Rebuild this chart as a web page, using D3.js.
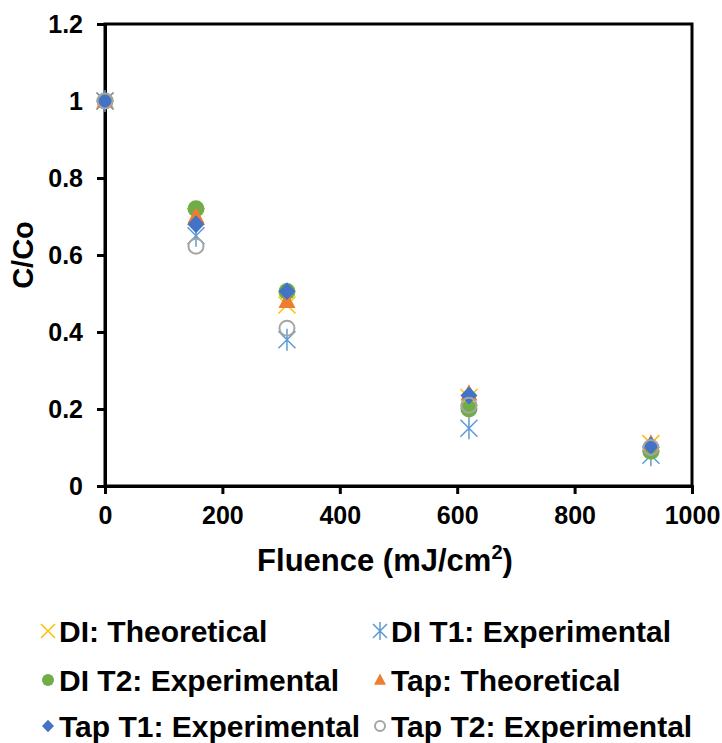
<!DOCTYPE html>
<html>
<head>
<meta charset="utf-8">
<script src="https://cdn.jsdelivr.net/npm/d3@7"></script>
<style>
  body { margin: 0; background: #fff; }
  svg { font-family: "Liberation Sans", Arial, sans-serif; font-weight: bold; }
</style>
</head>
<body>
<div id="chart"></div>
<script>
// fluence values (mJ/cm2)
var fluence = [0, 155, 310, 620, 930];

var seriesNames = ["DI: Theoretical", "DI T1: Experimental", "DI T2: Experimental",
                   "Tap: Theoretical", "Tap T1: Experimental", "Tap T2: Experimental"];

var diTheo  = [1, 0.70, 0.47, 0.23, 0.11];
var diT1    = [1, 0.65, 0.38, 0.15, 0.08];
var diT2    = [1, 0.72, 0.505, 0.20, 0.09];
var tapTheo = [1, 0.70, 0.48, 0.24, 0.11];
var tapT1   = [1, 0.68, 0.506, 0.235, 0.105];
var tapT2   = [1, 0.623, 0.41, 0.21, 0.10];

var xTicks = [0, 200, 400, 600, 800, 1000];
var yTicks = [0, 0.2, 0.4, 0.6, 0.8, 1, 1.2];

var series = [
  { name: seriesNames[0], values: diTheo,  kind: "x",        color: "#FFC000" },
  { name: seriesNames[1], values: diT1,    kind: "asterisk", color: "#5B9BD5" },
  { name: seriesNames[2], values: diT2,    kind: "circle",   color: "#70AD47" },
  { name: seriesNames[3], values: tapTheo, kind: "triangle", color: "#ED7D31" },
  { name: seriesNames[4], values: tapT1,   kind: "diamond",  color: "#4472C4" },
  { name: seriesNames[5], values: tapT2,   kind: "open",     color: "#A5A5A5" }
];

var width = 722, height = 743;
var margin = { left: 105, right: 30, top: 24, bottom: 257 };

var svg = d3.select("#chart").append("svg")
  .attr("width", width)
  .attr("height", height);

var x = d3.scaleLinear().domain([0, 1000]).range([margin.left, width - margin.right]);
var y = d3.scaleLinear().domain([0, 1.2]).range([height - margin.bottom, margin.top]);

// frame
svg.append("rect")
  .attr("x", x(0)).attr("y", y(1.2))
  .attr("width", x(1000) - x(0)).attr("height", y(0) - y(1.2))
  .attr("fill", "none").attr("stroke", "#000").attr("stroke-width", 3);

var xAxis = svg.append("g")
  .attr("transform", "translate(0," + y(0) + ")")
  .call(d3.axisBottom(x).tickValues(xTicks).tickSize(8).tickPadding(12).tickFormat(d3.format("d")));
var yAxis = svg.append("g")
  .attr("transform", "translate(" + x(0) + ",0)")
  .call(d3.axisLeft(y).tickValues(yTicks).tickSize(8).tickPadding(14).tickFormat(function(d) { return String(+d.toFixed(1)); }));

[xAxis, yAxis].forEach(function(a) {
  a.select(".domain").attr("stroke-width", 3);
  a.selectAll(".tick line").attr("stroke-width", 3);
  a.selectAll("text").attr("font-size", 25).attr("font-weight", "bold").attr("fill", "#000")
    .attr("font-family", "'Liberation Sans', Arial, sans-serif");
});

// axis titles
var xt = svg.append("text")
  .attr("x", 385).attr("y", 571)
  .attr("text-anchor", "middle").attr("font-size", 31);
xt.append("tspan").text("Fluence (mJ/cm");
xt.append("tspan").attr("font-size", 20).attr("dy", -12).text("2");
xt.append("tspan").attr("dy", 12).text(")");

svg.append("text")
  .attr("transform", "translate(33," + ((y(0) + y(1.2)) / 2) + ") rotate(-90)")
  .attr("text-anchor", "middle").attr("font-size", 29)
  .text("C/Co");

function drawMarker(g, kind, color, s) {
  if (kind === "x") {
    g.append("path").attr("d", "M" + (-s) + "," + (-s) + "L" + s + "," + s + "M" + (-s) + "," + s + "L" + s + "," + (-s))
      .attr("stroke", color).attr("stroke-width", 1.5).attr("fill", "none");
  } else if (kind === "asterisk") {
    g.append("path").attr("d", "M" + (-s) + "," + (-s) + "L" + s + "," + s + "M" + (-s) + "," + s + "L" + s + "," + (-s) + "M0," + (-s * 1.3) + "L0," + (s * 1.3))
      .attr("stroke", color).attr("stroke-width", 1.5).attr("fill", "none");
  } else if (kind === "circle") {
    g.append("circle").attr("r", s).attr("fill", color);
  } else if (kind === "open") {
    g.append("circle").attr("r", s - 1).attr("fill", "none").attr("stroke", color).attr("stroke-width", 2);
  } else if (kind === "triangle") {
    g.append("path").attr("d", "M0," + (-s * 1.1) + "L" + s + "," + (s * 0.8) + "L" + (-s) + "," + (s * 0.8) + "Z").attr("fill", color);
  } else if (kind === "diamond") {
    g.append("path").attr("d", "M0," + (-s * 1.05) + "L" + s + ",0L0," + (s * 1.05) + "L" + (-s) + ",0Z").attr("fill", color);
  }
}

series.forEach(function(sr) {
  sr.values.forEach(function(v, i) {
    var g = svg.append("g").attr("transform", "translate(" + x(fluence[i]) + "," + y(v) + ")");
    drawMarker(g, sr.kind, sr.color, 8.5);
  });
});

// legend
var legPos = [[48, 631], [380, 631], [48, 680], [380, 680], [48, 726], [380, 726]];
series.forEach(function(sr, i) {
  var g = svg.append("g").attr("transform", "translate(" + legPos[i][0] + "," + legPos[i][1] + ")");
  drawMarker(g, sr.kind, sr.color, sr.kind === "x" || sr.kind === "asterisk" ? 7 : 6);
  g.append("text").attr("x", 11).attr("y", 11).attr("font-size", 30).text(sr.name);
});
</script>
</body>
</html>
